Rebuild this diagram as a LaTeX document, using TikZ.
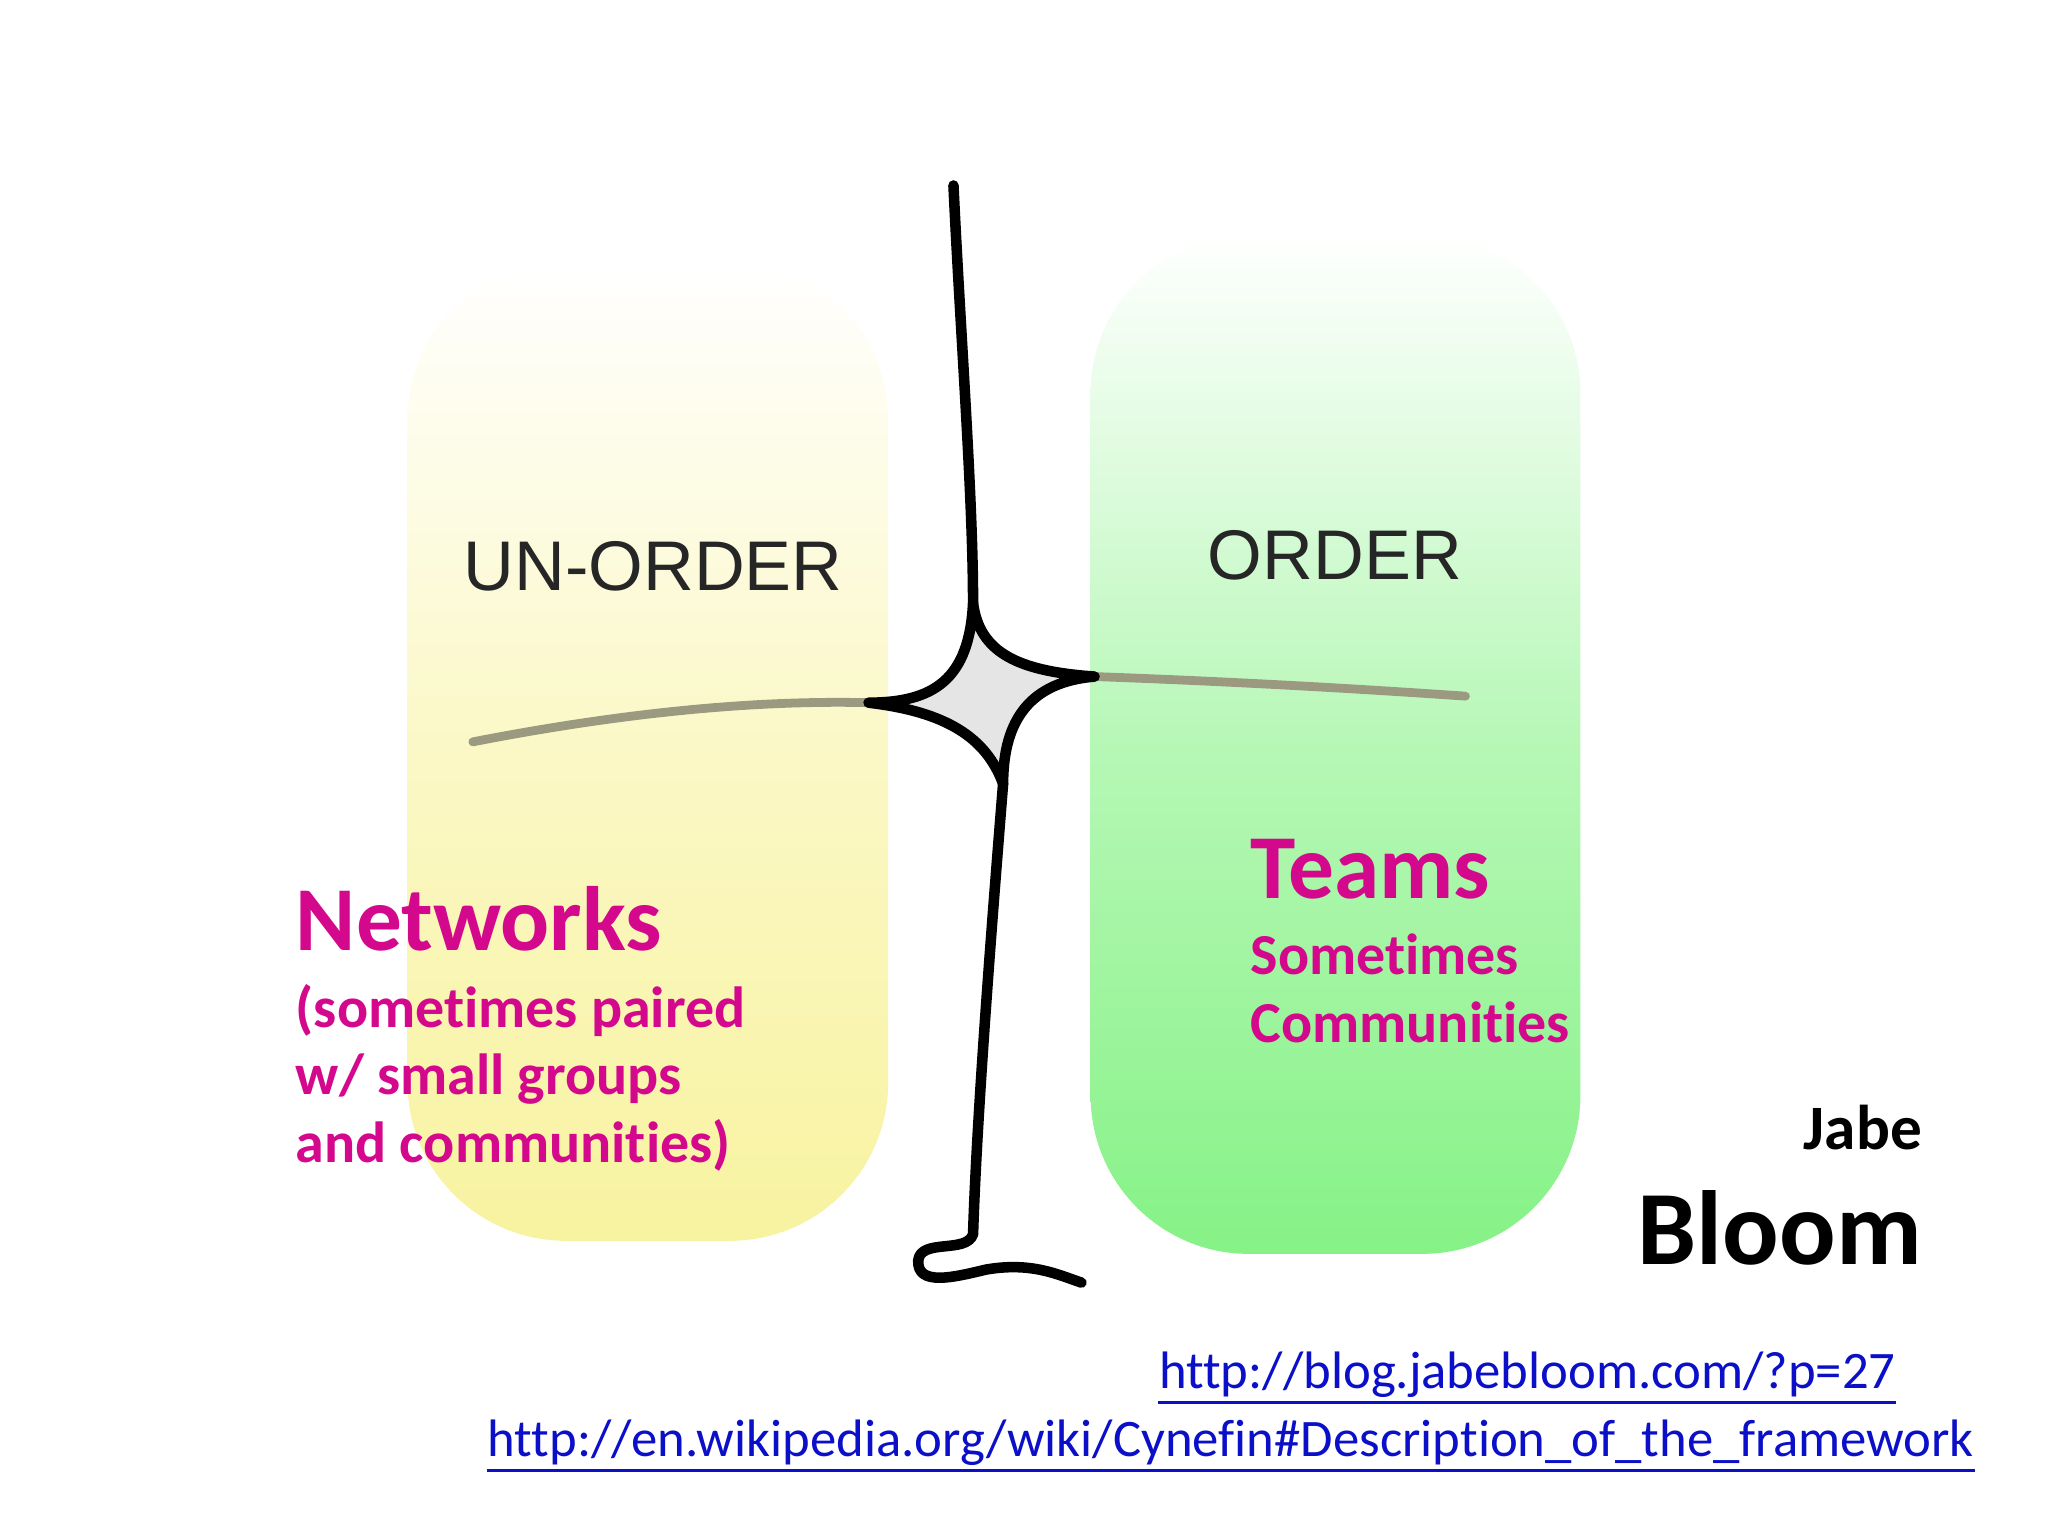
\documentclass[tikz,border=0pt]{standalone}
\usepackage{fontspec}
\setmainfont[Ligatures=NoCommon]{Carlito}
\newfontfamily\labfont{Liberation Sans}
\definecolor{mag}{HTML}{D4088C}
\definecolor{yel}{HTML}{F8F3A0}
\definecolor{grn}{HTML}{86F286}
\definecolor{lnk}{HTML}{0B10C8}
\begin{document}
\begin{tikzpicture}[x=0.01306cm,y=-0.01306cm,
  hdr/.style={font=\labfont\fontsize{20}{24}\selectfont,text=black!85,anchor=base},
  big/.style={font=\bfseries\fontsize{26}{30}\selectfont,text=mag,anchor=base west,inner sep=0},
  small/.style={font=\bfseries\fontsize{16.5}{20}\selectfont,text=mag,anchor=base west,inner sep=0},
  url/.style={font=\fontsize{15}{18}\selectfont,text=lnk,inner sep=0},
  ink/.style={line width=3pt,line cap=round,line join=round}]
\useasboundingbox (0,0) rectangle (1568,1176);
% panels
\shade[top color=white,bottom color=yel,middle color=yel!60,rounded corners=45] (312,200) rectangle (680,950);
\shade[top color=white,bottom color=grn,middle color=grn!60,rounded corners=45] (835,180) rectangle (1210,960);
% horizontal axis
\draw[line width=2.5pt,gray!80!olive!90,line cap=round] (362,568) .. controls (480,545) and (580,536) .. (665,538);
\draw[line width=2.5pt,gray!80!olive!90,line cap=round] (838,518) .. controls (950,522) and (1050,528) .. (1122,533);
% star
\coordinate (T) at (745,462); \coordinate (R) at (838,518);
\coordinate (B) at (768,600); \coordinate (L) at (665,538);
\draw[ink,fill=gray!20] (T) .. controls (750,500) and (780,514) .. (R)
  .. controls (790,522) and (768,550) .. (B)
  .. controls (755,565) and (725,545) .. (L)
  .. controls (715,538) and (742,520) .. (T) -- cycle;
% vertical line
\coordinate (top) at (730,142);
\draw[ink] (top) .. controls (735,250) and (745,380) .. (T);
\draw[ink] (B) .. controls (760,700) and (748,850) .. (745,945)
  .. controls (740,960) and (705,948) .. (703,965)
  .. controls (702,985) and (730,978) .. (755,972)
  .. controls (790,966) and (810,976) .. (828,982);
% labels
\node[hdr] (uo) at (500,452) {UN-ORDER};
\node[hdr] (o) at (1022,444) {ORDER};
\node[big] (nw) at (226,728) {Networks};
\node[small] (n1) at (226,787) {(sometimes paired};
\node[small] (n2) at (226,838) {w/ small groups};
\node[small] (n3) at (226,890) {and communities)};
\node[big] (tm) at (957,688) {Teams};
\node[small] (t1) at (957,746) {Sometimes};
\node[small] (t2) at (957,798) {Communities};
\node[font=\bfseries\fontsize{18}{20}\selectfont,anchor=base east,inner sep=0] (j) at (1472,880) {Jabe};
\node[font=\bfseries\fontsize{30}{34}\selectfont,anchor=base east,inner sep=0] (b) at (1472,968) {Bloom};
\node[url,anchor=base east] (u1) at (1452,1063) {http://blog.jabebloom.com/?p=27};
\node[url,anchor=base east] (u2) at (1512,1115) {http://en.wikipedia.org/wiki/Cynefin\#Description\_of\_the\_framework};
\draw[lnk,line width=0.8pt] ([yshift=-4pt]u1.base west) -- ([yshift=-4pt]u1.base east);
\draw[lnk,line width=0.8pt] ([yshift=-4pt]u2.base west) -- ([yshift=-4pt]u2.base east);
\end{tikzpicture}
\end{document}
